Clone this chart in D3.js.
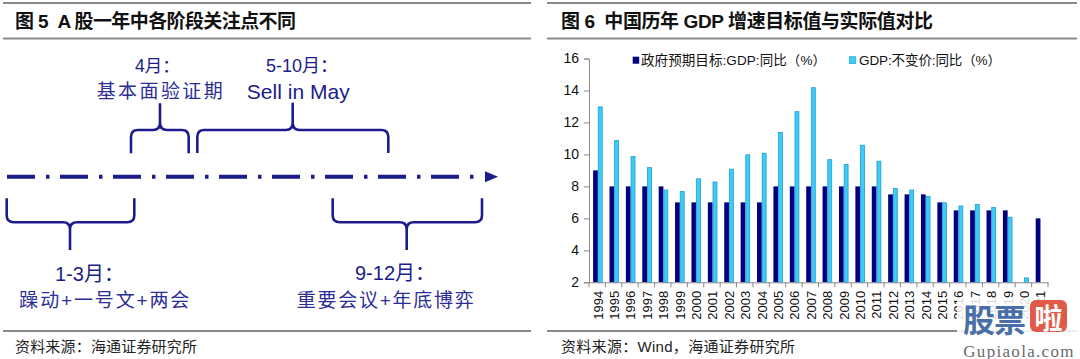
<!DOCTYPE html>
<html><head><meta charset="utf-8">
<script src="https://cdn.jsdelivr.net/npm/d3@7/dist/d3.min.js"></script>
<style>
html,body{margin:0;padding:0;background:#fff;}
svg{display:block;}
</style></head>
<body>
<svg id="c" width="1080" height="359"></svg>
<script>
// ---------------- data ----------------
const years = ["1994","1995","1996","1997","1998","1999","2000","2001","2002","2003","2004","2005","2006","2007","2008","2009","2010","2011","2012","2013","2014","2015","2016","2017","2018","2019","2020","2021"];
const targetGrowth = [9,8,8,8,8,7,7,7,7,7,7,8,8,8,8,8,8,8,7.5,7.5,7.5,7,6.5,6.5,6.5,6.5,null,6];
const actualGrowth = [13.0,10.9,9.9,9.2,7.8,7.7,8.5,8.3,9.1,10.0,10.1,11.4,12.7,14.2,9.7,9.4,10.6,9.6,7.9,7.8,7.4,7.0,6.8,6.9,6.7,6.1,2.3,null];
const yTicks = [2,4,6,8,10,12,14,16];
const seriesNames = ["政府预期目标:GDP:同比（%）","GDP:不变价:同比（%）"];

const panelTitles = ["图 5  A 股一年中各阶段关注点不同","图 6  中国历年 GDP 增速目标值与实际值对比"];
const panelSources = ["资料来源：海通证券研究所","资料来源：Wind，海通证券研究所"];
const periodTitles = ["1-3月：","4月：","5-10月：","9-12月："];
const periodNotes = ["躁动+一号文+两会","基本面验证期","Sell in May","重要会议+年底博弈"];

// ---------------- layout / style ----------------
const LATIN = "'Liberation Sans', Arial, 'Noto Sans CJK SC', sans-serif";
const NAVY = "#1c1c8a";
const NOTE = "#2d2d96";
const RULE = "#8a8a8a";
const DARK = "#000080";
const LIGHT = "#3ecbf4";
const LIGHT_EDGE = "#1e9fd8";

const svg = d3.select("#c");

// panel frames
const panels = [
  {x1:3, x2:531, tx:15, sx:15, tLen:281, sLen:182},
  {x1:547, x2:1077, tx:561, sx:561, tLen:372, sLen:234}
];
panels.forEach((p,i)=>{
  [3, 38.5, 331].forEach(y=>{
    svg.append("line").attr("x1",p.x1).attr("x2",p.x2).attr("y1",y).attr("y2",y)
      .attr("stroke",RULE).attr("stroke-width",2);
  });
  svg.append("text").attr("x",p.tx).attr("y",21.5).attr("dominant-baseline","central")
    .attr("font-family",LATIN).attr("font-weight","bold").attr("font-size",19)
    .attr("textLength",p.tLen).attr("lengthAdjust","spacing").attr("fill","#111")
    .attr("xml:space","preserve").text(panelTitles[i]);
  svg.append("text").attr("x",p.sx).attr("y",346.5).attr("dominant-baseline","central")
    .attr("font-family",LATIN).attr("font-size",15).attr("fill","#222")
    .attr("textLength",p.sLen).attr("lengthAdjust","spacing")
    .text(panelSources[i]);
});

// ---------------- left diagram ----------------
const timeline = {x1:7, x2:476, y:176.7, arrowX:485, arrowTip:498};
svg.append("line").attr("x1",timeline.x1).attr("x2",timeline.x2)
  .attr("y1",timeline.y).attr("y2",timeline.y)
  .attr("stroke",NAVY).attr("stroke-width",4)
  .attr("stroke-dasharray","28 11 3.5 10.5");
svg.append("path")
  .attr("d",`M${timeline.arrowX},${timeline.y-5.5}L${timeline.arrowTip},${timeline.y}L${timeline.arrowX},${timeline.y+5.5}Z`)
  .attr("fill",NAVY);

// braces: ends at yEnd, bar at yBar, tip at yTip
const braces = [
  {x1:6.7, x2:134.3, xm:70, yEnd:198.3, yBar:222.3, yTip:250},
  {x1:131, x2:188.7, xm:160, yEnd:153.3, yBar:130, yTip:103.3},
  {x1:197.3, x2:388.3, xm:292.7, yEnd:153, yBar:130, yTip:102.7},
  {x1:332.7, x2:482, xm:406.7, yEnd:198.3, yBar:222.3, yTip:250}
];
function bracePath(b){
  const r = 7, s = Math.sign(b.yTip - b.yBar);
  const p = d3.path();
  p.moveTo(b.x1, b.yEnd);
  p.lineTo(b.x1, b.yBar - s*r);
  p.quadraticCurveTo(b.x1, b.yBar, b.x1 + r, b.yBar);
  p.lineTo(b.xm - r, b.yBar);
  p.quadraticCurveTo(b.xm, b.yBar, b.xm, b.yBar + s*r);
  p.lineTo(b.xm, b.yTip);
  p.moveTo(b.xm, b.yBar + s*r);
  p.quadraticCurveTo(b.xm, b.yBar, b.xm + r, b.yBar);
  p.lineTo(b.x2 - r, b.yBar);
  p.quadraticCurveTo(b.x2, b.yBar, b.x2, b.yBar - s*r);
  p.lineTo(b.x2, b.yEnd);
  return p.toString();
}
svg.append("g").selectAll("path").data(braces).join("path")
  .attr("d",bracePath).attr("fill","none").attr("stroke",NAVY)
  .attr("stroke-width",2.6).attr("stroke-linejoin","round");

const titleLayout = [
  {x:55, y:280.7, size:20},
  {x:135, y:72.3, size:17.5},
  {x:266, y:72.3, size:18},
  {x:355, y:280, size:20}
];
svg.append("g").selectAll("text").data(periodTitles).join("text")
  .attr("x",(d,i)=>titleLayout[i].x).attr("y",(d,i)=>titleLayout[i].y)
  .attr("font-family",LATIN).attr("font-size",(d,i)=>titleLayout[i].size)
  .attr("fill",NAVY).text(d=>d);

const noteLayout = [
  {x:19.3, y:300, size:19, len:170, latin:false},
  {x:96.7, y:91.7, size:19, len:126, latin:false},
  {x:246.7, y:91, size:21, len:103, latin:true},
  {x:296.7, y:300, size:19, len:177, latin:false}
];
svg.append("g").selectAll("text").data(periodNotes).join("text")
  .attr("x",(d,i)=>noteLayout[i].x).attr("y",(d,i)=>noteLayout[i].y)
  .attr("dominant-baseline","central")
  .attr("font-family",LATIN).attr("font-size",(d,i)=>noteLayout[i].size)
  .attr("textLength",(d,i)=>noteLayout[i].len).attr("lengthAdjust","spacing")
  .attr("fill",(d,i)=>noteLayout[i].latin?NAVY:NOTE).text(d=>d);

// ---------------- right bar chart ----------------
const x = d3.scaleBand().domain(years).range([589,1048]).padding(0);
const xs = d3.scaleBand().domain(["target","actual"]).range([0.25*x.bandwidth(), 0.83*x.bandwidth()]).padding(0);
const y = d3.scaleLinear().domain([2,16]).range([282.3,58.5]);

const chart = svg.append("g");
// y axis
const yAxis = chart.append("g").attr("transform","translate(589,0)")
  .call(d3.axisLeft(y).tickValues(yTicks).tickSize(5).tickPadding(5).tickFormat(d3.format("d")));
yAxis.select(".domain").attr("stroke",RULE).attr("stroke-width",1);
yAxis.selectAll(".tick line").attr("stroke",RULE);
yAxis.selectAll("text").attr("font-family",LATIN).attr("font-size",14).attr("fill","#111");

// bars
const bars = chart.append("g");
bars.selectAll("rect.t").data(years.map((yr,i)=>({yr,v:targetGrowth[i]})).filter(d=>d.v!=null))
  .join("rect").attr("class","t")
  .attr("x",d=>x(d.yr)+xs("target")).attr("width",xs.bandwidth())
  .attr("y",d=>y(d.v)).attr("height",d=>y(2)-y(d.v))
  .attr("fill",DARK);
bars.selectAll("rect.a").data(years.map((yr,i)=>({yr,v:actualGrowth[i]})).filter(d=>d.v!=null))
  .join("rect").attr("class","a")
  .attr("x",d=>x(d.yr)+xs("actual")+0.4).attr("width",xs.bandwidth()-0.8)
  .attr("y",d=>y(d.v)+0.4).attr("height",d=>y(2)-y(d.v)-0.4)
  .attr("fill",LIGHT).attr("stroke",LIGHT_EDGE).attr("stroke-width",0.8);

// x axis
const xAxis = chart.append("g").attr("transform",`translate(0,${y(2)})`)
  .call(d3.axisBottom(x).tickSize(0).tickPadding(0));
xAxis.select(".domain").attr("stroke",RULE).attr("stroke-width",1);
xAxis.selectAll(".tick text")
  .attr("font-family",LATIN).attr("font-size",13).attr("fill","#111")
  .attr("text-anchor","end").attr("dominant-baseline","central")
  .attr("transform","translate(1,8.5) rotate(-90)").attr("x",0).attr("y",0).attr("dy",null);
// category separators (ticks between bands)
chart.append("g").selectAll("line").data(years.concat(["end"])).join("line")
  .attr("x1",(d,i)=>x.range()[0]+i*x.step()).attr("x2",(d,i)=>x.range()[0]+i*x.step())
  .attr("y1",y(2)).attr("y2",y(2)+5).attr("stroke",RULE);

// legend
const legendLayout = [{sx:632.7, tx:641, len:185}, {sx:849.3, tx:859, len:142}];
const legend = chart.append("g").selectAll("g").data(seriesNames).join("g");
legend.append("rect").attr("x",(d,i)=>legendLayout[i].sx).attr("y",56.7).attr("width",6.5).attr("height",7)
  .attr("fill",(d,i)=>i?LIGHT:DARK).attr("stroke",(d,i)=>i?LIGHT_EDGE:"none").attr("stroke-width",0.6);
legend.append("text").attr("x",(d,i)=>legendLayout[i].tx).attr("y",60.5).attr("dominant-baseline","central")
  .attr("font-family",LATIN).attr("font-size",13.5).attr("fill","#111")
  .attr("textLength",(d,i)=>legendLayout[i].len).attr("lengthAdjust","spacing").text(d=>d);

// watermark
const wm = svg.append("g");
wm.append("rect").attr("x",957).attr("y",299).attr("width",123).attr("height",60).attr("fill","#fff").attr("opacity",0.85);
wm.append("text").attr("x",963).attr("y",318).attr("dominant-baseline","central")
  .attr("font-family","'Noto Sans CJK SC',sans-serif").attr("font-weight","bold").attr("font-size",32)
  .attr("fill","#4a6fa8").attr("letter-spacing",-1).text("股票");
wm.append("rect").attr("x",1030).attr("y",300).attr("width",37).attr("height",32).attr("rx",6).attr("fill","#e05a4a");
wm.append("text").attr("x",1048.5).attr("y",316.5).attr("dominant-baseline","central").attr("text-anchor","middle")
  .attr("font-family","'Noto Sans CJK SC',sans-serif").attr("font-weight","bold").attr("font-size",28)
  .attr("fill","#fff").text("啦");
wm.append("text").attr("x",1019).attr("y",351).attr("dominant-baseline","central").attr("text-anchor","middle")
  .attr("font-family","'Liberation Serif',serif").attr("font-size",17).attr("letter-spacing",1.3)
  .attr("fill","#6b6b6b").text("Gupiaola.com");
</script>
</body></html>
